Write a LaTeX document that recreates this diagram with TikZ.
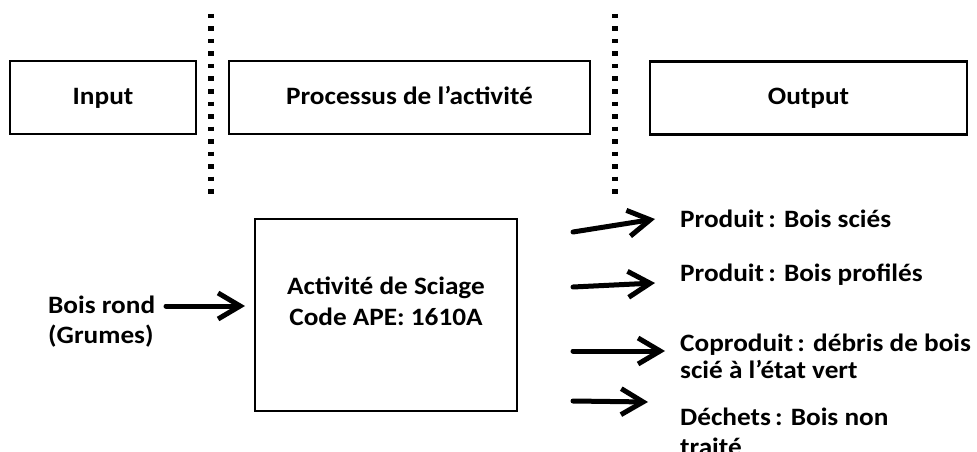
\documentclass[tikz,border=0pt]{standalone}
\usepackage{fontspec}
\setmainfont{Carlito}[FakeStretch=1.09]
\usetikzlibrary{arrows.meta}
\begin{document}
\begin{tikzpicture}[x=1pt,y=-1pt,
  txt/.style={font=\fontsize{25pt}{30pt}\selectfont\bfseries, inner sep=0pt},
  hbox/.style={draw, line width=2.8pt, minimum height=73pt, inner sep=0pt, txt, text height=18pt, text depth=5pt},
  sep/.style={line width=6.5pt, dash pattern=on 4.5pt off 8pt},
  arr/.style={line width=5pt, -{Straight Barb[length=22pt,width=26pt,line width=5pt]}, line cap=round}]
\useasboundingbox (0,0) rectangle (977,452);
% header boxes
\node[hbox, minimum width=186pt] (inp) at (103,97.5) {Input};
\node[hbox, minimum width=361pt] (pro) at (409.5,97.5) {Processus de l’activité};
\node[hbox, minimum width=317pt] (out) at (808.5,98) {Output};
% separators
\coordinate (s1a) at (211,14); \coordinate (s1b) at (211,197);
\coordinate (s2a) at (615,14); \coordinate (s2b) at (615,197);
\draw[sep] (s1a) -- (s1b);
\draw[sep] (s2a) -- (s2b);
% main box
\node[draw, line width=2.8pt, minimum width=262pt, minimum height=192pt, inner sep=0pt] (proc) at (386,315) {};
\node[txt, align=center] (proctxt) at (386,301) {Activité de Sciage\\[1pt]Code APE: 1610A};
% input
\node[txt, align=left, anchor=west] (bois) at (48,322) {Bois rond\\(Grumes)};
\coordinate (ia) at (166,306); \coordinate (ib) at (245,306);
\draw[arr] (ia) -- (ib);
% outputs
\node[txt, anchor=west] (o1) at (680,219) {Produit\,: Bois sciés};
\node[txt, anchor=west] (o2) at (680,275) {Produit\,: Bois profilés};
\node[txt, align=left, anchor=west] (o3) at (680,356) {Coproduit\,: débris de bois\\[-3pt]scié à l’état vert};
\node[txt, align=left, anchor=west] (o4) at (680,432) {Déchets\,: Bois non\\traité};
\coordinate (a1) at (573,232); \coordinate (b1) at (655,219);
\coordinate (a2) at (573,287); \coordinate (b2) at (655,283);
\coordinate (a3) at (573,351); \coordinate (b3) at (665,351);
\coordinate (a4) at (573,401); \coordinate (b4) at (648,402);
\draw[arr] (a1) -- (b1);
\draw[arr] (a2) -- (b2);
\draw[arr] (a3) -- (b3);
\draw[arr] (a4) -- (b4);
\end{tikzpicture}
\end{document}
